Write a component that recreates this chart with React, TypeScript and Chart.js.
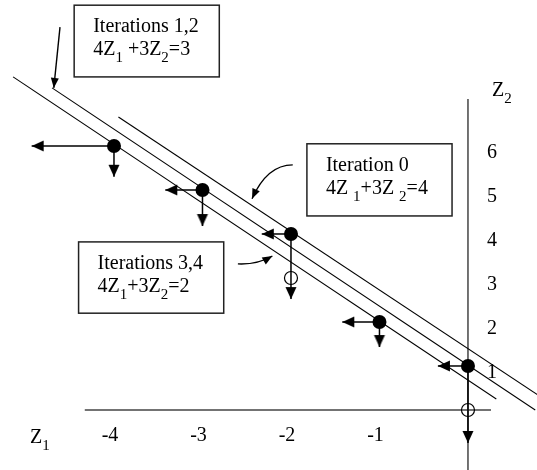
import React, { useEffect, useRef } from 'react';
import { Chart, registerables } from 'chart.js';

Chart.register(...registerables);

// ---- data (Z1, Z2 units) ----
const iterZ1 = [-4, -3, -2, -1, 0];
const iterZ2 = [6, 5, 4, 2, 1];
const leftTipZ1 = [-4.93, -3.42, -2.33, -1.42, -0.34];
const downTipZ2 = [5.3, 4.18, 2.52, 1.43, -0.75];
const openZ1 = [-2, 0];
const openZ2 = [3, 0];
const lineConst = [2, 3, 4];
const lineStartZ1 = [-5.14, -4.7, -3.95];
const lineStartZ2 = [7.57, 7.32, 6.66];
const lineEndZ1 = [0.32, 0.76, 0.8];
const lineEndZ2 = [0.25, 0, 0.33];
const z1TickValues = [-4, -3, -2, -1];
const z1TickLabels = ['-4', '-3', '-2', '-1'];
const z2TickValues = [1, 2, 3, 4, 5, 6];
const z2TickLabels = ['1', '2', '3', '4', '5', '6'];
const z1AxisRange = [-4.33, 0.26];
const z2AxisRange = [-1.4, 7.07];
const viewZ1 = [-5.288, 0.78];
const viewZ2 = [-1.364, 9.318];

// callout boxes: [left, top, right, bottom] in data units
const boxTitles = ['Iterations 1,2', 'Iteration 0', 'Iterations 3,4'];
const boxEquations: [string, boolean][][] = [
  [['4Z', false], ['1', true], [' +3Z', false], ['2', true], ['=3', false]],
  [['4Z ', false], ['1', true], ['+3Z ', false], ['2', true], ['=4', false]],
  [['4Z', false], ['1', true], ['+3Z', false], ['2', true], ['=2', false]],
];
const boxCorners = [
  [-4.45, 9.2, -2.81, 7.57],
  [-1.82, 6.05, -0.18, 4.41],
  [-4.4, 3.82, -2.76, 2.2],
];
// pointer arrows: start, control, end (data units)
const pointerPaths = [
  [[-4.61, 8.7], [-4.645, 8.0], [-4.68, 7.32]],
  [[-1.98, 5.57], [-2.27, 5.57], [-2.44, 4.8]],
  [[-2.6, 3.32], [-2.38, 3.3], [-2.21, 3.5]],
];

const SERIF = "'Liberation Serif', 'Times New Roman', serif";

function drawRich(ctx: CanvasRenderingContext2D, segs: [string, boolean][], x: number, baseline: number) {
  let cx = x;
  ctx.textAlign = 'left';
  ctx.textBaseline = 'alphabetic';
  for (const [t, sub] of segs) {
    ctx.font = sub ? `15px ${SERIF}` : `20px ${SERIF}`;
    ctx.fillText(t, cx, baseline + (sub ? 7 : 0));
    cx += ctx.measureText(t).width;
  }
}

function drawHead(ctx: CanvasRenderingContext2D, tx: number, ty: number, ang: number, L: number, W: number) {
  ctx.save();
  ctx.translate(tx, ty);
  ctx.rotate(ang);
  ctx.beginPath();
  ctx.moveTo(0, 0);
  ctx.lineTo(-L, -W / 2);
  ctx.lineTo(-L, W / 2);
  ctx.closePath();
  ctx.fill();
  ctx.restore();
}

const annotationPlugin = {
  id: 'diagramAnnotations',
  afterDatasetsDraw(chart: any) {
    const { ctx } = chart;
    const xs = chart.scales.x;
    const ys = chart.scales.y;
    const px = (v: number) => xs.getPixelForValue(v);
    const py = (v: number) => ys.getPixelForValue(v);
    ctx.save();
    ctx.fillStyle = '#000';
    ctx.font = `20px ${SERIF}`;
    ctx.textAlign = 'center';
    ctx.textBaseline = 'alphabetic';
    z1TickValues.forEach((v, i) => ctx.fillText(z1TickLabels[i], px(v) - 4, py(0) + 31));
    z2TickValues.forEach((v, i) => ctx.fillText(z2TickLabels[i], px(0) + 24, py(v) + 12));
    drawRich(ctx, [['Z', false], ['1', true]], px(0) - 438, py(0) + 33);
    drawRich(ctx, [['Z', false], ['2', true]], px(0) + 24, py(0) - 314);

    // boxes
    boxCorners.forEach((b, i) => {
      const l = px(b[0]), t = py(b[1]), r = px(b[2]), bt = py(b[3]);
      ctx.fillStyle = '#fff';
      ctx.fillRect(l, t, r - l, bt - t);
      ctx.strokeStyle = '#222';
      ctx.lineWidth = 1.5;
      ctx.strokeRect(l, t, r - l, bt - t);
      ctx.fillStyle = '#000';
      ctx.font = `20px ${SERIF}`;
      ctx.textAlign = 'left';
      ctx.fillText(boxTitles[i], l + 19, t + 27);
      drawRich(ctx, boxEquations[i], l + 19, t + 50);
    });

    // pointer arrows
    ctx.strokeStyle = '#000';
    ctx.fillStyle = '#000';
    ctx.lineWidth = 1.4;
    pointerPaths.forEach((p) => {
      const [s, c, e] = p.map(([a, b]) => [px(a), py(b)]);
      ctx.beginPath();
      ctx.moveTo(s[0], s[1]);
      ctx.quadraticCurveTo(c[0], c[1], e[0], e[1]);
      ctx.stroke();
      const ang = Math.atan2(e[1] - c[1], e[0] - c[0]);
      drawHead(ctx, e[0], e[1], ang, 10, 8);
    });
    ctx.restore();
  },
};

function makeArrowImage(L: number, W: number) {
  const size = Math.ceil(L * 2 + 4);
  const c = document.createElement('canvas');
  c.width = size;
  c.height = size;
  const g = c.getContext('2d')!;
  const m = size / 2;
  g.fillStyle = '#000';
  g.beginPath();
  g.moveTo(m, m);
  g.lineTo(m + L, m - W / 2);
  g.lineTo(m + L, m + W / 2);
  g.closePath();
  g.fill();
  return c;
}

export default function App() {
  const ref = useRef<HTMLCanvasElement>(null);

  useEffect(() => {
    if (!ref.current) return;
    const arrowImg = makeArrowImage(12, 11);
    const datasets: any[] = [];
    const seg = (pts: { x: number; y: number }[], color: string, width: number, order: number) => ({
      data: pts,
      showLine: true,
      borderColor: color,
      borderWidth: width,
      pointRadius: 0,
      fill: false,
      order,
    });
    datasets.push(seg([{ x: z1AxisRange[0], y: 0 }, { x: z1AxisRange[1], y: 0 }], '#444', 1.5, 10));
    datasets.push(seg([{ x: 0, y: z2AxisRange[0] }, { x: 0, y: z2AxisRange[1] }], '#444', 1.5, 10));
    lineConst.forEach((c, i) => {
      const d = seg(
        [{ x: lineStartZ1[i], y: lineStartZ2[i] }, { x: lineEndZ1[i], y: lineEndZ2[i] }],
        '#000', 1.1, 9,
      );
      (d as any).label = `4Z1+3Z2=${c}`;
      datasets.push(d);
    });
    iterZ1.forEach((z1, i) => {
      datasets.push(seg([{ x: z1, y: iterZ2[i] }, { x: leftTipZ1[i], y: iterZ2[i] }], '#000', 1.5, 8));
      datasets.push(seg([{ x: z1, y: iterZ2[i] }, { x: z1, y: downTipZ2[i] }], '#000', 1.5, 8));
    });
    datasets.push({
      data: leftTipZ1.map((x, i) => ({ x, y: iterZ2[i] })),
      pointStyle: arrowImg,
      rotation: 0,
      pointRadius: 1,
      showLine: false,
      order: 7,
    });
    datasets.push({
      data: downTipZ2.map((y, i) => ({ x: iterZ1[i], y })),
      pointStyle: arrowImg,
      rotation: -90,
      pointRadius: 1,
      showLine: false,
      order: 7,
    });
    datasets.push({
      data: openZ1.map((x, i) => ({ x, y: openZ2[i] })),
      pointStyle: 'circle',
      pointRadius: 6.5,
      pointBorderColor: '#000',
      pointBorderWidth: 1.2,
      pointBackgroundColor: 'rgba(0,0,0,0)',
      showLine: false,
      order: 6,
    });
    datasets.push({
      data: iterZ1.map((x, i) => ({ x, y: iterZ2[i] })),
      pointStyle: 'circle',
      pointRadius: 7,
      pointBorderColor: '#000',
      pointBorderWidth: 0,
      pointBackgroundColor: '#000',
      showLine: false,
      order: 5,
    });

    const chart = new Chart(ref.current, {
      type: 'scatter',
      data: { datasets },
      options: {
        animation: false,
        responsive: false,
        maintainAspectRatio: false,
        events: [],
        layout: { padding: 0, autoPadding: false },
        plugins: { legend: { display: false }, tooltip: { enabled: false } },
        scales: {
          x: { type: 'linear', min: viewZ1[0], max: viewZ1[1], display: false },
          y: { type: 'linear', min: viewZ2[0], max: viewZ2[1], display: false },
        },
      },
      plugins: [annotationPlugin],
    } as any);
    return () => chart.destroy();
  }, []);

  return (
    <div style={{ position: 'fixed', left: 0, top: 0, width: 537, height: 470, background: '#fff' }}>
      <canvas ref={ref} width={537} height={470} style={{ width: 537, height: 470, display: 'block' }} />
    </div>
  );
}
